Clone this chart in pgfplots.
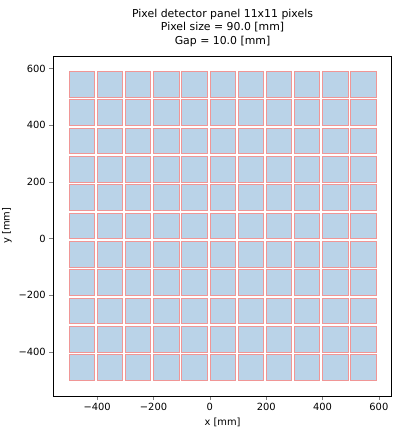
\documentclass[border=0pt]{standalone}
\usepackage{pgfplots}
\pgfplotsset{compat=1.18}
\usepackage{fontspec}
\setmainfont{DejaVu Sans}
\definecolor{pix}{RGB}{186,211,232}
\definecolor{edg}{RGB}{240,150,150}
\begin{document}
\begin{tikzpicture}
\path[use as bounding box] (-1.9,-1.25) rectangle (12.3,14.05);
\begin{axis}[at={(0,0)},anchor=south west,
  width=12cm,height=12.07cm,scale only axis,
  xmin=-555,xmax=645,ymin=-555,ymax=645,
  xtick={-400,-200,0,200,400,600},ytick={-400,-200,0,200,400,600},
  xticklabels={−400,−200,0,200,400,600},yticklabels={−400,−200,0,200,400,600},
  tick align=outside,tick pos=left,
  ticklabel style={font=\fontsize{10}{12}\selectfont},
  xlabel={x [mm]},ylabel={y [mm]},
  label style={font=\fontsize{10}{12}\selectfont},
  title={Pixel detector panel 11x11 pixels\\Pixel size = 90.0 [mm]\\Gap = 10.0 [mm]},
  title style={align=center,font=\fontsize{11}{13.5}\selectfont},
]
\pgfplotsforeachungrouped \i in {-500,-400,...,500}{
  \pgfplotsforeachungrouped \j in {-500,-400,...,500}{
    \pgfmathtruncatemacro\xa{\i+90}
    \pgfmathtruncatemacro\ya{\j+90}
    \edef\cmd{\noexpand\addplot[fill=pix,draw=edg,line width=0.5pt] coordinates {(\i,\j) (\xa,\j) (\xa,\ya) (\i,\ya)} --cycle;}
    \cmd
  }
}
\end{axis}
\end{tikzpicture}
\end{document}
